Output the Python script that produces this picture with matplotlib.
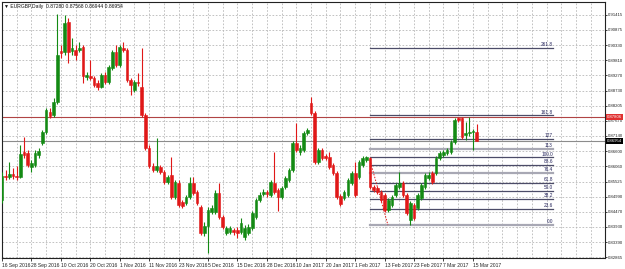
import numpy as np
import matplotlib
matplotlib.use('Agg')
import matplotlib.pyplot as plt

plt.rcParams['font.family'] = ['Liberation Sans', 'DejaVu Sans']

# EURGBP daily candles, 16 Sep 2016 .. mid Mar 2017
opens = [0.8488, 0.8572, 0.8569, 0.8579, 0.8572, 0.8569, 0.8657, 0.8654, 0.8604, 0.8611,
         0.8646, 0.8689, 0.8728, 0.8798, 0.8788, 0.8833, 0.9013, 0.9010, 0.9116, 0.9013,
         0.9017, 0.9017, 0.9028, 0.8922, 0.8925, 0.8918, 0.8900, 0.8886, 0.8929, 0.8904,
         0.8953, 0.9010, 0.8964, 0.9024, 0.9017, 0.8911, 0.8876, 0.8904, 0.8886, 0.8788,
         0.8671, 0.8608, 0.8594, 0.8604, 0.8586, 0.8551, 0.8576, 0.8498, 0.8548, 0.8481,
         0.8477, 0.8498, 0.8548, 0.8516, 0.8463, 0.8371, 0.8396, 0.8445, 0.8445, 0.8512,
         0.8428, 0.8371, 0.8375, 0.8382, 0.8382, 0.8375, 0.8357, 0.8371, 0.8389, 0.8428,
         0.8488, 0.8509, 0.8516, 0.8505, 0.8548, 0.8523, 0.8498, 0.8534, 0.8558, 0.8594,
         0.8689, 0.8657, 0.8664, 0.8724, 0.8830, 0.8795, 0.8622, 0.8664, 0.8643, 0.8639,
         0.8611, 0.8583, 0.8502, 0.8495, 0.8505, 0.8548, 0.8583, 0.8569, 0.8611, 0.8629,
         0.8636, 0.8534, 0.8530, 0.8516, 0.8505, 0.8452, 0.8470, 0.8505, 0.8534, 0.8548,
         0.8505, 0.8417, 0.8470, 0.8459, 0.8495, 0.8534, 0.8565, 0.8583, 0.8583, 0.8636,
         0.8646, 0.8654, 0.8657, 0.8692, 0.8777, 0.8777, 0.8717, 0.8724, 0.8728, 0.87280]
highs = [0.8586, 0.8594, 0.8622, 0.8601, 0.8608, 0.8682, 0.8710, 0.8664, 0.8629, 0.8664,
         0.8671, 0.8735, 0.8812, 0.8812, 0.8848, 0.9144, 0.9035, 0.9140, 0.9130, 0.9059,
         0.9035, 0.9045, 0.9035, 0.8939, 0.8982, 0.8925, 0.8911, 0.8936, 0.8939, 0.8964,
         0.9017, 0.9035, 0.9035, 0.9045, 0.9024, 0.8918, 0.8911, 0.8936, 0.9024, 0.8795,
         0.8682, 0.8618, 0.8706, 0.8611, 0.8594, 0.8576, 0.8639, 0.8558, 0.8558, 0.8488,
         0.8505, 0.8569, 0.8569, 0.8523, 0.8470, 0.8410, 0.8463, 0.8470, 0.8523, 0.8548,
         0.8435, 0.8396, 0.8396, 0.8389, 0.8392, 0.8424, 0.8399, 0.8403, 0.8449, 0.8495,
         0.8516, 0.8526, 0.8523, 0.8558, 0.8657, 0.8530, 0.8537, 0.8572, 0.8601, 0.8696,
         0.8759, 0.8682, 0.8731, 0.8742, 0.8851, 0.8802, 0.8671, 0.8671, 0.8650, 0.8657,
         0.8618, 0.8590, 0.8509, 0.8523, 0.8565, 0.8590, 0.8622, 0.8629, 0.8643, 0.8643,
         0.8639, 0.8541, 0.8537, 0.8523, 0.8512, 0.8495, 0.8505, 0.8548, 0.8586, 0.8555,
         0.8512, 0.8484, 0.8477, 0.8512, 0.8548, 0.8583, 0.8586, 0.8590, 0.8643, 0.8661,
         0.8664, 0.8671, 0.8699, 0.8777, 0.8781, 0.8781, 0.8763, 0.8781, 0.8738, 0.87568]
lows = [0.8477, 0.8558, 0.8562, 0.8562, 0.8558, 0.8565, 0.8636, 0.8604, 0.8586, 0.8604,
        0.8636, 0.8682, 0.8720, 0.8777, 0.8781, 0.8826, 0.8989, 0.8999, 0.8971, 0.8999,
        0.8982, 0.9010, 0.8900, 0.8911, 0.8911, 0.8886, 0.8876, 0.8883, 0.8897, 0.8897,
        0.8946, 0.8957, 0.8957, 0.9010, 0.8904, 0.8858, 0.8869, 0.8890, 0.8781, 0.8664,
        0.8601, 0.8586, 0.8586, 0.8579, 0.8544, 0.8544, 0.8491, 0.8491, 0.8463, 0.8459,
        0.8470, 0.8491, 0.8505, 0.8470, 0.8364, 0.8361, 0.8301, 0.8438, 0.8438, 0.8421,
        0.8385, 0.8364, 0.8368, 0.8364, 0.8354, 0.8368, 0.8346, 0.8364, 0.8382, 0.8421,
        0.8481, 0.8502, 0.8498, 0.8498, 0.8509, 0.8449, 0.8491, 0.8526, 0.8551, 0.8586,
        0.8657, 0.8646, 0.8657, 0.8717, 0.8788, 0.8615, 0.8615, 0.8629, 0.8629, 0.8597,
        0.8576, 0.8491, 0.8467, 0.8488, 0.8498, 0.8541, 0.8498, 0.8562, 0.8604, 0.8622,
        0.8526, 0.8516, 0.8509, 0.8481, 0.8445, 0.8445, 0.8463, 0.8498, 0.8526, 0.8498,
        0.8435, 0.8399, 0.8417, 0.8452, 0.8488, 0.8526, 0.8558, 0.8544, 0.8576, 0.8629,
        0.8639, 0.8646, 0.8650, 0.8685, 0.8763, 0.8703, 0.8699, 0.8714, 0.8664, 0.86944]
closes = [0.8572, 0.8569, 0.8579, 0.8572, 0.8569, 0.8650, 0.8646, 0.8611, 0.8618, 0.8654,
          0.8661, 0.8728, 0.8805, 0.8784, 0.8833, 0.8999, 0.9006, 0.9112, 0.9010, 0.9024,
          0.8999, 0.9024, 0.8925, 0.8929, 0.8918, 0.8893, 0.8886, 0.8929, 0.8904, 0.8957,
          0.9010, 0.8964, 0.9028, 0.9017, 0.8911, 0.8893, 0.8904, 0.8900, 0.8788, 0.8671,
          0.8608, 0.8594, 0.8608, 0.8586, 0.8551, 0.8569, 0.8498, 0.8551, 0.8470, 0.8467,
          0.8498, 0.8548, 0.8512, 0.8477, 0.8371, 0.8396, 0.8452, 0.8459, 0.8512, 0.8428,
          0.8392, 0.8389, 0.8389, 0.8375, 0.8371, 0.8406, 0.8389, 0.8392, 0.8442, 0.8488,
          0.8505, 0.8516, 0.8509, 0.8551, 0.8516, 0.8498, 0.8530, 0.8565, 0.8594, 0.8689,
          0.8664, 0.8671, 0.8724, 0.8735, 0.8795, 0.8622, 0.8664, 0.8636, 0.8636, 0.8604,
          0.8583, 0.8498, 0.8474, 0.8516, 0.8558, 0.8583, 0.8505, 0.8622, 0.8636, 0.8639,
          0.8534, 0.8523, 0.8516, 0.8488, 0.8452, 0.8488, 0.8498, 0.8541, 0.8548, 0.8505,
          0.8442, 0.8477, 0.8424, 0.8505, 0.8541, 0.8576, 0.8576, 0.8551, 0.8636, 0.8654,
          0.8657, 0.8664, 0.8692, 0.8770, 0.8770, 0.8710, 0.8724, 0.8728, 0.8731, 0.86954]

price_labels = ['0.91415', '0.90875', '0.90330', '0.89810', '0.89270', '0.88730', '0.88205',
                '0.87670', '0.87140', '0.86600', '0.86060', '0.85525', '0.84990', '0.84470',
                '0.83930', '0.83390', '0.82865']
date_labels = ['16 Sep 2016', '28 Sep 2016', '10 Oct 2016', '20 Oct 2016', '1 Nov 2016',
               '11 Nov 2016', '23 Nov 2016', '5 Dec 2016', '15 Dec 2016', '28 Dec 2016',
               '10 Jan 2017', '20 Jan 2017', '1 Feb 2017', '13 Feb 2017', '23 Feb 2017',
               '7 Mar 2017', '15 Mar 2017']

# fibo expansion
fib_levels = [0.0, 23.6, 38.2, 50.0, 61.8, 76.4, 88.6, 100.0, 113, 127, 161.8, 261.8]
fib_texts = ['0.0', '23.6', '38.2', '50.0', '61.8', '76.4', '88.6', '100.0', '113', '127', '161.8', '261.8']
fib_light = [0.0, 76.4, 113]
fib_low, fib_high = 0.8399, 0.8638
fib_start, fib_end = 100, 149.7
fib_ray = ([100, 104.9], [0.8629, 0.8399])

red_line = 0.87806
bid = 0.86954

n = len(opens)
x = np.arange(n)
o = np.array(opens); c = np.array(closes)
h = np.array(highs); l = np.array(lows)

W, H = 625, 269
fig = plt.figure(figsize=(W / 100, H / 100), dpi=100)
ax = fig.add_axes([2 / W, 1 - 258 / H, 603 / W, 256 / H])

green = '#138a13'
red = '#e01818'
col = np.where(c >= o, green, red)

ax.vlines(x, l, h, colors=col, linewidth=0.8, zorder=3)
ax.bar(x, np.abs(c - o), bottom=np.minimum(o, c), width=0.72,
       color=col, edgecolor=col, linewidth=0.4, zorder=4)

# grid
tick_vals = [float(v) for v in price_labels]
for v in tick_vals:
    ax.axhline(v, color='#b8b8b8', lw=0.6, ls=(0, (2, 2)), zorder=1)
for b in range(0, 164, 4):
    ax.axvline(b, color='#b8b8b8', lw=0.6, ls=(0, (2, 2)), zorder=1)

# fibo lines
for lv, t in zip(fib_levels, fib_texts):
    p = fib_low + (fib_high - fib_low) * lv / 100
    if lv in fib_light:
        ax.plot([fib_start, fib_end], [p, p], color='#a8a8b4', lw=1.6, zorder=2)
    else:
        ax.plot([fib_start, fib_end], [p, p], color='#4c4c68', lw=0.9, zorder=2)
    ax.text(fib_end, p + 0.0003, t, fontsize=3.4, color='#23235a',
            ha='right', va='bottom', zorder=5)
ax.plot(fib_ray[0], fib_ray[1], color='#e01818', lw=0.7, ls=(0, (1.5, 1.5)), zorder=2)

ax.axhline(red_line, color='#b04444', lw=0.8, zorder=2)
ax.axhline(bid, color='#8c8c8c', lw=0.8, zorder=2)

ax.set_xlim(0, 163.9)
ax.set_ylim(0.8283, 0.9186)

ax.yaxis.tick_right()
ax.set_yticks(tick_vals)
ax.set_yticklabels(price_labels)
ax.tick_params(axis='y', length=1.5, width=0.6, labelsize=3.1, pad=0.6, colors='#222222')

ax.set_xticks(np.arange(0, 8 * len(date_labels), 8))
ax.set_xticklabels(date_labels, ha='left')
ax.tick_params(axis='x', length=2, width=0.6, labelsize=3.6, pad=1.5, colors='#222222')

for s in ax.spines.values():
    s.set_linewidth(0.8)
    s.set_color('#222222')

ax.text(1.003, red_line, '%.5f' % red_line, transform=ax.get_yaxis_transform(),
        fontsize=3.1, color='white', va='center', ha='left',
        bbox=dict(boxstyle='square,pad=0.15', fc='#e03030', ec='none'), zorder=6, clip_on=False)
ax.text(1.003, bid, '%.5f' % bid, transform=ax.get_yaxis_transform(),
        fontsize=3.1, color='white', va='center', ha='left',
        bbox=dict(boxstyle='square,pad=0.15', fc='black', ec='none'), zorder=6, clip_on=False)

ax.text(0.004, 0.993, '\u25bc EURGBP,Daily  0.87280 0.87568 0.86944 0.86954',
        transform=ax.transAxes, fontsize=3.6, va='top', ha='left', color='#111111')

fig.savefig('out.png', dpi=100, facecolor='white')
